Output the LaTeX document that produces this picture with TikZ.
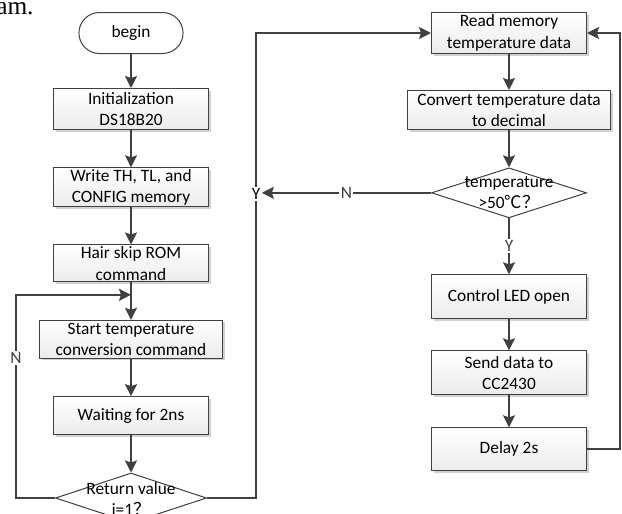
\documentclass[tikz,border=0pt]{standalone}
\usepackage{fontspec}
\setmainfont{Carlito}
\newfontfamily\cjk{Noto Sans CJK SC}
\newfontfamily\pageserif{Liberation Serif}
\definecolor{FlowLine}{HTML}{404040}
\definecolor{FlowFill}{HTML}{EBEBEB}
\usetikzlibrary{arrows.meta,positioning,calc,shapes.geometric,shapes.misc,shadows}

\begin{document}
\begin{tikzpicture}[
    x=0.75pt, y=-0.75pt,
    node distance=28pt,
    font=\fontsize{13}{16}\selectfont,
    box/.style={
      draw=FlowLine,
      line width=0.75pt,
      align=center,
      inner sep=1pt,
      minimum width=116.25pt,
      minimum height=28.5pt,
      top color=white,
      bottom color=FlowFill,
      drop shadow={shadow xshift=1.5pt, shadow yshift=-1.5pt, fill=black, opacity=0.18}
    },
    terminal/.style={
      rounded rectangle,
      draw=FlowLine,
      line width=0.75pt,
      fill=white,
      minimum width=84.75pt,
      minimum height=30.75pt
    },
    decision/.style={
      diamond,
      draw=FlowLine,
      line width=0.75pt,
      fill=white,
      inner sep=0pt
    },
    lab/.style={fill=white, inner sep=1pt},
    arr/.style={-{Stealth[length=9pt, width=9pt, inset=1.5pt]}, line width=1.3pt, FlowLine},
    conn/.style={line width=1.3pt, FlowLine}
  ]
    \useasboundingbox (0,0) rectangle (622,514);

    % page text cut at the top
    \node[anchor=base west, inner sep=0pt, font=\pageserif\fontsize{19}{19}\selectfont] (pagetext) at (-4,15) {am.};

    % left column
    \node[terminal] (begin) at (131,33) {begin};
    \node[box, minimum height=30.75pt, below=25.5pt of begin] (init) {Initialization\\DS18B20};
    \node[box, minimum height=27.75pt, below=of init] (write) {Write TH, TL, and\\CONFIG memory};
    \node[box, minimum height=27.75pt, below=of write] (hair) {Hair skip ROM\\command};
    \node[box, minimum width=137.25pt, below=of hair] (start) {Start temperature\\conversion command};
    \node[box, below=of start] (wait) {Waiting for 2ns};
    \node[decision, minimum width=113.25pt, minimum height=37.5pt, below=of wait] (ret) {};
    \node[align=center, inner sep=0pt] (rettext) at ([yshift=-2pt]ret.center) {Return value\\j=1{\cjk ？}};

    % right column
    \node[box, minimum height=30.75pt] (read) at (509,33) {Read memory\\temperature data};
    \node[box, minimum width=152.25pt, minimum height=29.25pt, below=27pt of read] (convert) {Convert temperature data\\to decimal};
    \node[decision, minimum width=116.25pt, minimum height=37.5pt, below=of convert] (temp) {};
    \node[align=center, inner sep=0pt] (temptext) at (temp.center) {temperature\\>50{\cjk ℃？}};
    \node[box, minimum height=33pt, below=42pt of temp] (led) {Control LED open};
    \node[box, minimum height=33pt, below=23.25pt of led] (send) {Send data to\\CC2430};
    \node[box, minimum height=32.25pt, below=24pt of send] (delay) {Delay 2s};

    \coordinate (join) at ($(hair.south)!0.33!(start.north)$);
    \node[lab] (ylab) at (256,194) {Y};

    \draw[arr] (begin) -- (init);
    \draw[arr] (init) -- (write);
    \draw[arr] (write) -- (hair);
    \draw[arr] (hair) -- (start);
    \draw[arr] (start) -- (wait);
    \draw[arr] (wait) -- (ret);
    \draw[arr] (ret.west) -- ++(-39,0) |- node[lab, pos=0.345] {N} (join);
    \draw[conn] (ret.east) -| (ylab.south);
    \draw[arr] (ylab.north) |- (read.west);

    \draw[arr] (read) -- (convert);
    \draw[arr] (convert) -- (temp);
    \draw[arr] (temp.west) -- node[lab] {N} (temp.west -| ylab.east);
    \draw[arr] (temp.south) -- node[lab] {Y} (led.north);
    \draw[arr] (led) -- (send);
    \draw[arr] (send) -- (delay);
    \draw[arr] (delay.east) -- ++(33,0) |- (read.east);
  \end{tikzpicture}
\end{document}
